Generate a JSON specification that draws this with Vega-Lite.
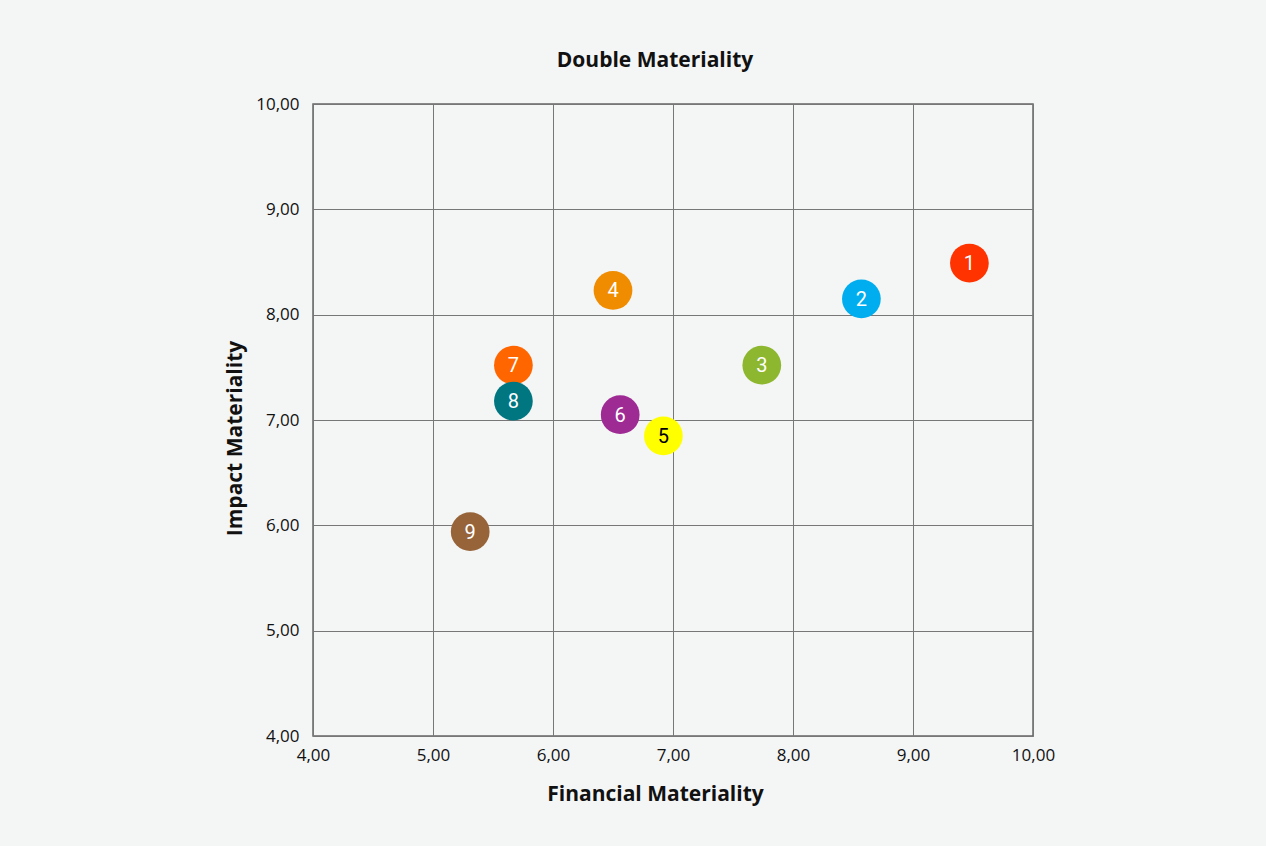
{
  "$schema": "https://vega.github.io/schema/vega-lite/v6.json",
  "width": 720,
  "height": 632,
  "autosize": {"type": "none"},
  "padding": {"left": 313, "top": 104, "right": 233, "bottom": 110},
  "background": "#f4f5f5",
  "title": {
    "text": "Double Materiality",
    "font": "Open Sans",
    "fontSize": 21,
    "fontWeight": "bold",
    "color": "#111111",
    "offset": 24,
    "dx": -18
  },
  "config": {
    "view": {"stroke": "#666666", "strokeWidth": 1.5},
    "axis": {
      "labelFont": "Open Sans",
      "labelFontSize": 17,
      "labelColor": "#111111",
      "titleFont": "Open Sans",
      "titleFontSize": 21,
      "titleFontWeight": "bold",
      "titleColor": "#111111",
      "gridColor": "#777777",
      "gridOpacity": 1,
      "gridWidth": 1,
      "domain": false,
      "ticks": false
    }
  },
  "data": {
    "values": [
      {"id": "1", "fin": 9.47, "imp": 8.49, "color": "#ff3300", "tcolor": "#ffffff"},
      {"id": "2", "fin": 8.57, "imp": 8.15, "color": "#00aeef", "tcolor": "#ffffff"},
      {"id": "3", "fin": 7.74, "imp": 7.52, "color": "#8db72e", "tcolor": "#ffffff"},
      {"id": "4", "fin": 6.50, "imp": 8.23, "color": "#f08c00", "tcolor": "#ffffff"},
      {"id": "6", "fin": 6.56, "imp": 7.05, "color": "#9e2a93", "tcolor": "#ffffff"},
      {"id": "5", "fin": 6.92, "imp": 6.85, "color": "#ffff00", "tcolor": "#000000"},
      {"id": "7", "fin": 5.67, "imp": 7.52, "color": "#ff6600", "tcolor": "#ffffff"},
      {"id": "8", "fin": 5.67, "imp": 7.18, "color": "#007681", "tcolor": "#ffffff"},
      {"id": "9", "fin": 5.31, "imp": 5.94, "color": "#97643a", "tcolor": "#ffffff"}
    ]
  },
  "encoding": {
    "x": {
      "field": "fin",
      "type": "quantitative",
      "title": "Financial Materiality",
      "scale": {"domain": [4, 10], "nice": false, "zero": false},
      "axis": {
        "values": [4, 5, 6, 7, 8, 9, 10],
        "labelExpr": "replace(format(datum.value, '.2f'), '.', ',')",
        "labelFlush": false,
        "labelPadding": 11,
        "titlePadding": 20,
        "titleX": 342
      }
    },
    "y": {
      "field": "imp",
      "type": "quantitative",
      "title": "Impact Materiality",
      "scale": {"domain": [4, 10], "nice": false, "zero": false},
      "axis": {
        "values": [4, 5, 6, 7, 8, 9, 10],
        "labelExpr": "replace(format(datum.value, '.2f'), '.', ',')",
        "labelFlush": false,
        "labelPadding": 14,
        "titlePadding": 10,
        "titleY": 334
      }
    }
  },
  "layer": [
    {
      "mark": {"type": "circle", "size": 1500, "opacity": 1},
      "encoding": {
        "color": {"field": "color", "type": "nominal", "scale": null, "legend": null}
      }
    },
    {
      "mark": {"type": "text", "font": "Roboto", "fontSize": 20, "baseline": "middle", "align": "center", "dy": 1},
      "encoding": {
        "text": {"field": "id"},
        "color": {"field": "tcolor", "type": "nominal", "scale": null, "legend": null}
      }
    }
  ]
}
